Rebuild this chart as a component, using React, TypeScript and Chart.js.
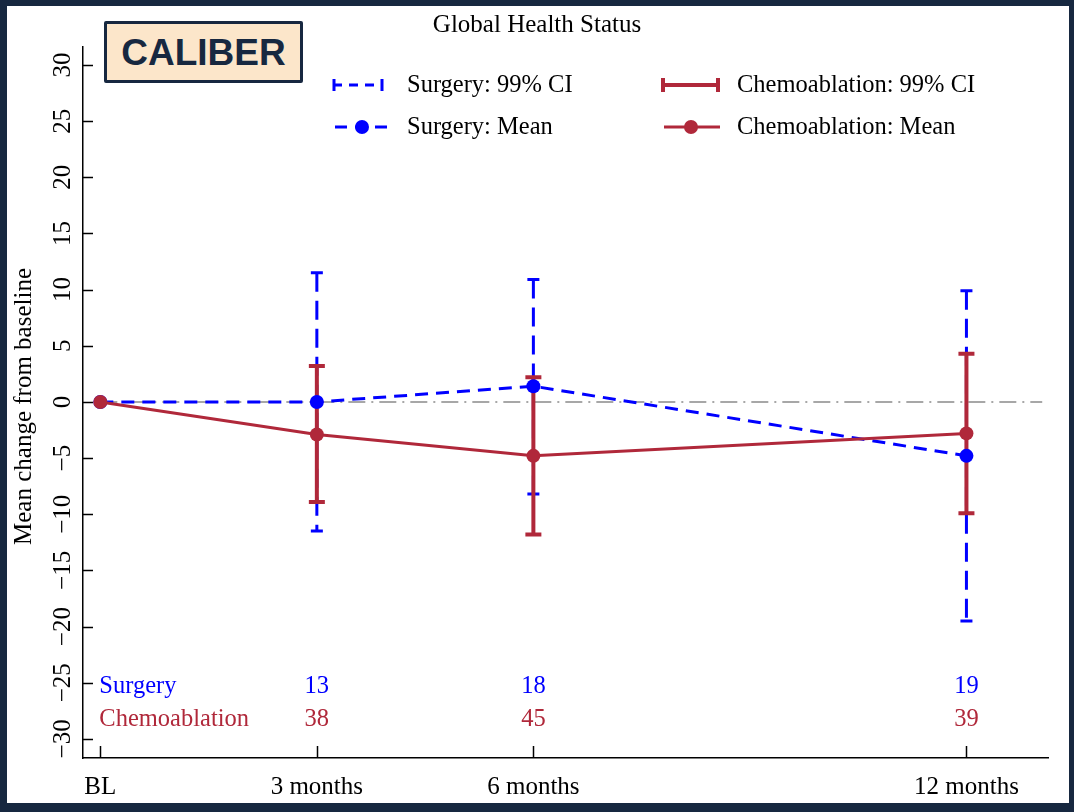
import React, { useEffect, useRef } from "react";
import { Chart, registerables } from "chart.js";

Chart.register(...registerables);

// ---------------- data ----------------
const months = [0, 3, 6, 12];
const xTickLabels = ["BL", "3 months", "6 months", "12 months"];
const yTickValues = [-30, -25, -20, -15, -10, -5, 0, 5, 10, 15, 20, 25, 30];

const surgeryMean = [0, 0.0, 1.4, -4.8];
const surgeryLower: (number | null)[] = [null, -11.5, -8.2, -19.5];
const surgeryUpper: (number | null)[] = [null, 11.5, 10.9, 9.9];

const chemoMean = [0, -2.9, -4.8, -2.8];
const chemoLower: (number | null)[] = [null, -8.9, -11.8, -9.9];
const chemoUpper: (number | null)[] = [null, 3.2, 2.2, 4.3];

const nMonths = [3, 6, 12];
const surgeryN = [13, 18, 19];
const chemoN = [38, 45, 39];

const legendLabels = ["Surgery: 99% CI", "Chemoablation: 99% CI", "Surgery: Mean", "Chemoablation: Mean"];
const groupNames = ["Surgery", "Chemoablation"];
const titleText = "Global Health Status";
const yAxisTitle = "Mean change from baseline";
const referenceValue = 0;

// ---------------- styles / layout ----------------
const W = 1074;
const H = 812;
const NAVY = "#172840";
const BLUE = "#0000ff";
const RED = "#b0283a";
const GREY = "#8a8a8a";
const SERIF = '"Liberation Serif", "Times New Roman", serif';
const FONT = `25px ${SERIF}`;
const LEGEND_FONT = `24.5px ${SERIF}`;
const nRowY = [-25, -28];

function fmt(v: number) {
  return v < 0 ? "\u2212" + Math.abs(v) : String(v);
}

function drawCI(
  ctx: CanvasRenderingContext2D,
  xs: any,
  ys: any,
  lower: (number | null)[],
  upper: (number | null)[],
  color: string,
  width: number,
  dash: number[],
  capHalf: number
) {
  lower.forEach((lo, i) => {
    const hi = upper[i];
    if (lo == null || hi == null) return;
    const x = xs.getPixelForValue(months[i]);
    const yTop = ys.getPixelForValue(hi);
    const yBot = ys.getPixelForValue(lo);
    ctx.save();
    ctx.strokeStyle = color;
    ctx.lineWidth = width;
    ctx.setLineDash(dash);
    ctx.beginPath();
    ctx.moveTo(x, yTop);
    ctx.lineTo(x, yBot);
    ctx.stroke();
    ctx.setLineDash([]);
    ctx.beginPath();
    ctx.moveTo(x - capHalf, yTop);
    ctx.lineTo(x + capHalf, yTop);
    ctx.moveTo(x - capHalf, yBot);
    ctx.lineTo(x + capHalf, yBot);
    ctx.stroke();
    ctx.restore();
  });
}

const decorPlugin = {
  id: "decor",
  beforeDatasetsDraw(chart: any) {
    const ctx: CanvasRenderingContext2D = chart.ctx;
    const xs = chart.scales.x;
    const ys = chart.scales.y;
    // reference line
    ctx.save();
    ctx.strokeStyle = GREY;
    ctx.lineWidth = 1.6;
    ctx.setLineDash([17, 6, 2, 6]);
    const y0 = ys.getPixelForValue(referenceValue);
    ctx.beginPath();
    ctx.moveTo(xs.getPixelForValue(months[0]), y0);
    ctx.lineTo(xs.getPixelForValue(13.05), y0);
    ctx.stroke();
    ctx.restore();
    drawCI(ctx, xs, ys, surgeryLower, surgeryUpper, BLUE, 3, [19, 9], 6);
    drawCI(ctx, xs, ys, chemoLower, chemoUpper, RED, 4, [], 8);
  },
  afterDraw(chart: any) {
    const ctx: CanvasRenderingContext2D = chart.ctx;
    const xs = chart.scales.x;
    const ys = chart.scales.y;
    const area = chart.chartArea;
    ctx.save();
    // inward ticks
    ctx.strokeStyle = "#000";
    ctx.lineWidth = 1.5;
    ctx.beginPath();
    yTickValues.forEach((v) => {
      const y = Math.round(ys.getPixelForValue(v)) + 0.5;
      ctx.moveTo(area.left, y);
      ctx.lineTo(area.left + 10, y);
    });
    months.forEach((m) => {
      const x = Math.round(xs.getPixelForValue(m)) + 0.5;
      ctx.moveTo(x, area.bottom);
      ctx.lineTo(x, area.bottom - 12);
    });
    ctx.stroke();

    // y tick labels (rotated)
    ctx.fillStyle = "#000";
    ctx.font = FONT;
    ctx.textAlign = "center";
    ctx.textBaseline = "alphabetic";
    yTickValues.forEach((v) => {
      ctx.save();
      ctx.translate(70, ys.getPixelForValue(v));
      ctx.rotate(-Math.PI / 2);
      ctx.fillText(fmt(v), 0, 0);
      ctx.restore();
    });
    // y axis title
    ctx.save();
    ctx.translate(31, (area.top + area.bottom) / 2 + 4);
    ctx.rotate(-Math.PI / 2);
    ctx.fillText(yAxisTitle, 0, 0);
    ctx.restore();

    // title
    ctx.fillText(titleText, W / 2, 32);

    // numbers at risk
    ctx.font = LEGEND_FONT;
    ctx.textBaseline = "alphabetic";
    const groups = [
      { name: groupNames[0], color: BLUE, n: surgeryN, y: nRowY[0] },
      { name: groupNames[1], color: RED, n: chemoN, y: nRowY[1] },
    ];
    groups.forEach((g) => {
      const y = ys.getPixelForValue(g.y) + 10;
      ctx.fillStyle = g.color;
      ctx.textAlign = "left";
      ctx.fillText(g.name, xs.getPixelForValue(months[0]) - 1, y);
      ctx.textAlign = "center";
      g.n.forEach((n, i) => ctx.fillText(String(n), xs.getPixelForValue(nMonths[i]), y));
    });

    // legend
    const rows = [85, 127];
    const symX = [[333, 383], [661, 720]];
    const textX = [407, 737];
    ctx.lineCap = "butt";
    // Surgery CI
    ctx.strokeStyle = BLUE;
    ctx.lineWidth = 3;
    ctx.setLineDash([9, 7]);
    ctx.beginPath();
    ctx.moveTo(symX[0][0], rows[0]);
    ctx.lineTo(symX[0][1], rows[0]);
    ctx.stroke();
    ctx.setLineDash([]);
    ctx.beginPath();
    ctx.moveTo(symX[0][0] + 1, rows[0] - 6);
    ctx.lineTo(symX[0][0] + 1, rows[0] + 6);
    ctx.moveTo(symX[0][1] - 1, rows[0] - 6);
    ctx.lineTo(symX[0][1] - 1, rows[0] + 6);
    ctx.stroke();
    // Chemo CI
    ctx.strokeStyle = RED;
    ctx.lineWidth = 4;
    ctx.beginPath();
    ctx.moveTo(symX[1][0], rows[0]);
    ctx.lineTo(symX[1][1], rows[0]);
    ctx.moveTo(symX[1][0] + 2, rows[0] - 7);
    ctx.lineTo(symX[1][0] + 2, rows[0] + 7);
    ctx.moveTo(symX[1][1] - 2, rows[0] - 7);
    ctx.lineTo(symX[1][1] - 2, rows[0] + 7);
    ctx.stroke();
    // Surgery mean
    ctx.strokeStyle = BLUE;
    ctx.lineWidth = 3;
    ctx.setLineDash([12, 8]);
    ctx.beginPath();
    ctx.moveTo(335, rows[1]);
    ctx.lineTo(392, rows[1]);
    ctx.stroke();
    ctx.setLineDash([]);
    ctx.fillStyle = BLUE;
    ctx.beginPath();
    ctx.arc(362, rows[1], 7, 0, Math.PI * 2);
    ctx.fill();
    // Chemo mean
    ctx.strokeStyle = RED;
    ctx.lineWidth = 3;
    ctx.beginPath();
    ctx.moveTo(664, rows[1]);
    ctx.lineTo(720, rows[1]);
    ctx.stroke();
    ctx.fillStyle = RED;
    ctx.beginPath();
    ctx.arc(691, rows[1], 7, 0, Math.PI * 2);
    ctx.fill();
    // legend texts
    ctx.fillStyle = "#000";
    ctx.textAlign = "left";
    ctx.textBaseline = "middle";
    ctx.fillText(legendLabels[0], textX[0], rows[0] + 1);
    ctx.fillText(legendLabels[1], textX[1], rows[0] + 1);
    ctx.fillText(legendLabels[2], textX[0], rows[1] + 1);
    ctx.fillText(legendLabels[3], textX[1], rows[1] + 1);
    ctx.restore();
  },
};

export default function App() {
  const ref = useRef<HTMLCanvasElement | null>(null);

  useEffect(() => {
    if (!ref.current) return;
    const chart = new Chart(ref.current, {
      type: "line",
      data: {
        datasets: [
          {
            label: legendLabels[3],
            data: months.map((m, i) => ({ x: m, y: chemoMean[i] })),
            borderColor: RED,
            backgroundColor: RED,
            borderWidth: 3,
            pointRadius: 7,
            pointBorderWidth: 0,
            pointBackgroundColor: RED,
            tension: 0,
          },
          {
            label: legendLabels[2],
            data: months.map((m, i) => ({ x: m, y: surgeryMean[i] })),
            borderColor: BLUE,
            backgroundColor: BLUE,
            borderWidth: 3,
            borderDash: [13, 8],
            pointRadius: 7,
            pointBorderWidth: 0,
            pointBackgroundColor: BLUE,
            tension: 0,
          },
        ],
      },
      options: {
        responsive: false,
        animation: false,
        events: [],
        layout: { padding: { top: 47, right: 26, left: 0, bottom: 0 } },
        plugins: {
          legend: { display: false },
          title: { display: false },
          tooltip: { enabled: false },
        },
        scales: {
          x: {
            type: "linear",
            min: -0.24,
            max: 13.13,
            afterBuildTicks: (scale: any) => {
              scale.ticks = months.map((v) => ({ value: v }));
            },
            afterFit: (scale: any) => {
              scale.height = 54;
            },
            ticks: {
              autoSkip: false,
              maxRotation: 0,
              padding: 14,
              color: "#000",
              font: { family: SERIF, size: 25 },
              callback: (v: any) => {
                const i = months.indexOf(Number(v));
                return i >= 0 ? xTickLabels[i] : "";
              },
            },
            grid: { display: true, drawOnChartArea: false, drawTicks: false },
            border: { display: true, color: "#000", width: 1.5 },
          },
          y: {
            type: "linear",
            min: -31.7,
            max: 31.6,
            afterBuildTicks: (scale: any) => {
              scale.ticks = yTickValues.map((v) => ({ value: v }));
            },
            afterFit: (scale: any) => {
              scale.width = 83;
            },
            ticks: { display: false },
            grid: { display: true, drawOnChartArea: false, drawTicks: false },
            border: { display: true, color: "#000", width: 1.5 },
          },
        },
      },
      plugins: [decorPlugin],
    } as any);
    return () => chart.destroy();
  }, []);

  return (
    <div style={{ position: "fixed", left: 0, top: 0, width: W, height: H, background: NAVY, overflow: "hidden" }}>
      <div style={{ position: "absolute", left: 7, top: 6, width: 1062, height: 797, background: "#ffffff" }} />
      <canvas ref={ref} width={W} height={H} style={{ position: "absolute", left: 0, top: 0, width: W, height: H }} />
      <div
        style={{
          position: "absolute",
          left: 104,
          top: 21,
          width: 199,
          height: 62,
          boxSizing: "border-box",
          background: "#fce6ca",
          border: `3.5px solid ${NAVY}`,
          borderRadius: 2,
          display: "flex",
          alignItems: "center",
          justifyContent: "center",
          fontFamily: '"Liberation Sans", Arial, sans-serif',
          fontWeight: 700,
          fontSize: 37,
          color: NAVY,
          lineHeight: 1,
        }}
      >
        CALIBER
      </div>
    </div>
  );
}
